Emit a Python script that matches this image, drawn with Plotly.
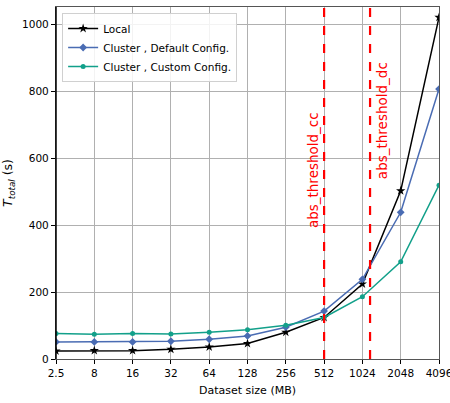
import plotly.graph_objects as go

sizes = ["2.5", "8", "16", "32", "64", "128", "256", "512", "1024", "2048", "4096"]
local = [24, 25, 25, 29, 36, 46, 80, 124, 224, 502, 1020]
default_cfg = [51, 51, 51, 53, 59, 69, 95, 143, 238, 438, 806]
custom_cfg = [76, 74, 76, 75, 80, 87, 101, 124, 186, 290, 519]
thresholds = [("abs_threshold_cc", 7.0), ("abs_threshold_dc", 8.2)]

xpos = list(range(len(sizes)))

fig = go.Figure()
fig.add_trace(go.Scatter(x=xpos, y=local, mode="lines+markers", name="Local",
                         line=dict(color="black", width=1.5),
                         marker=dict(symbol="star", size=7, color="black")))
fig.add_trace(go.Scatter(x=xpos, y=default_cfg, mode="lines+markers", name="Cluster , Default Config.",
                         line=dict(color="#4a6cb3", width=1.5),
                         marker=dict(symbol="diamond", size=6, color="#4a6cb3")))
fig.add_trace(go.Scatter(x=xpos, y=custom_cfg, mode="lines+markers", name="Cluster , Custom Config.",
                         line=dict(color="#12a08a", width=1.5),
                         marker=dict(symbol="circle", size=5, color="#12a08a")))

for (label, xv), (dx, yv) in zip(thresholds, [(-0.29, 564), (0.31, 713)]):
    fig.add_shape(type="line", x0=xv, x1=xv, y0=0, y1=1, yref="paper", xref="x",
                  line=dict(color="red", width=2.2, dash="dash"))
    fig.add_annotation(x=xv + dx, y=yv, text=label, textangle=-90, showarrow=False,
                       font=dict(color="red", size=13.5, family="DejaVu Sans"))

fig.update_layout(
    width=450, height=403,
    margin=dict(l=56, r=11, t=7, b=44, autoexpand=False),
    plot_bgcolor="white", paper_bgcolor="white",
    font=dict(family="DejaVu Sans", size=10.5, color="black"),
    showlegend=True,
    legend=dict(x=0.016, y=0.983, xanchor="left", yanchor="top",
                bgcolor="rgba(255,255,255,0.85)", bordercolor="#d0d0d0", borderwidth=1,
                font=dict(size=10.5), tracegroupgap=0, itemwidth=30),
    xaxis=dict(range=[0, 10], tickmode="array", tickvals=xpos, ticktext=sizes,
               ticklabeloverflow="allow", automargin=False,
               showgrid=True, gridcolor="#b0b0b0", gridwidth=1,
               showline=True, linecolor="#555555", linewidth=1.2, mirror=True,
               ticks="outside", ticklen=4, tickcolor="black", zeroline=False,
               title=dict(text="Dataset size (MB)", font=dict(size=11), standoff=8)),
    yaxis=dict(range=[0, 1051], tickvals=[0, 200, 400, 600, 800, 1000],
               automargin=False,
               showgrid=True, gridcolor="#b0b0b0", gridwidth=1,
               showline=True, linecolor="#555555", linewidth=1.2, mirror=True,
               ticks="outside", ticklen=4, tickcolor="black", zeroline=False,
               title=dict(text="<i>T<sub>total</sub></i> (s)", font=dict(size=12.5), standoff=6)),
)
fig.add_shape(type="line", x0=0, x1=0, y0=0, y1=1, xref="paper", yref="paper",
              line=dict(color="black", width=1.5))

fig.write_html("out.html")
